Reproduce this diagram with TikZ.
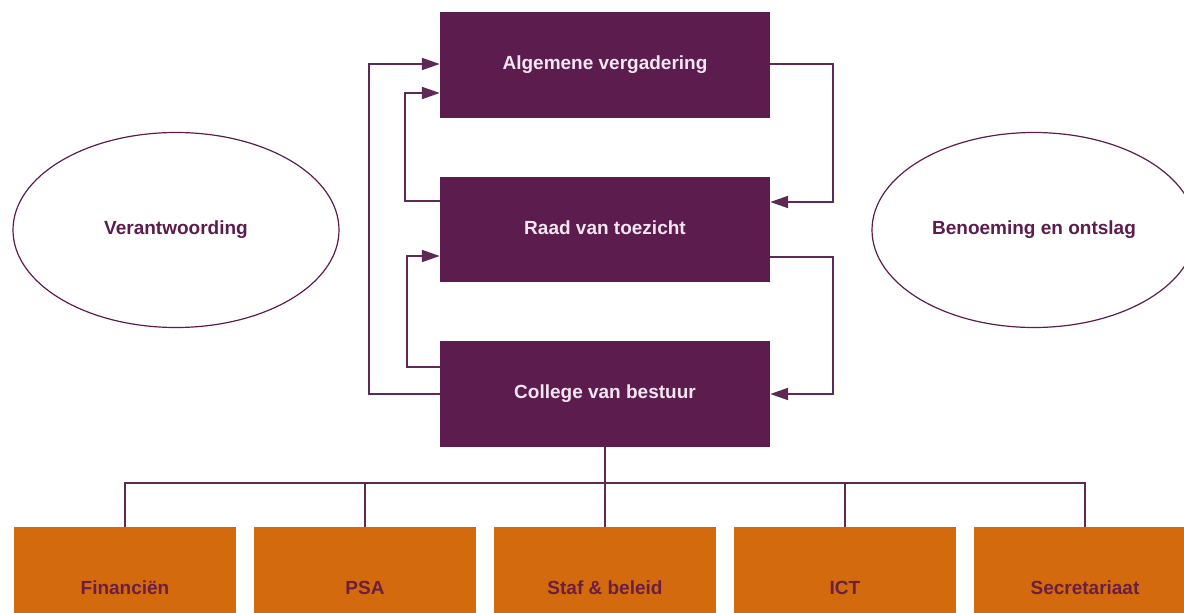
\documentclass[tikz,border=0pt]{standalone}
\usepackage{fontspec}
\setmainfont{Liberation Sans}
\usetikzlibrary{shapes.geometric,arrows.meta}
\definecolor{pfill}{HTML}{5C1D4E}
\definecolor{ofill}{HTML}{D36A0E}
\definecolor{pline}{HTML}{5E2A55}
\definecolor{ptext}{HTML}{F3E6F0}
\definecolor{otext}{HTML}{6A1F3F}
\tikzset{
  lbl/.style={font=\fontsize{19}{22}\selectfont\bfseries, text height=13.5pt, text depth=4pt},
  govbox/.style={lbl, rectangle, fill=pfill, draw=none, minimum width=330pt, minimum height=106pt, inner sep=0pt, text=ptext},
  deptbox/.style={lbl, rectangle, fill=ofill, draw=none, minimum width=222pt, minimum height=126pt, inner sep=0pt, text=otext},
  oval/.style={lbl, ellipse, draw=pfill, line width=1.2pt, minimum width=326pt, minimum height=195pt, inner sep=0pt, text=pfill},
  conn/.style={draw=pline, line width=2pt},
  arr/.style={conn, -{Triangle[length=18pt,width=12pt]}}
}
\begin{document}
\begin{tikzpicture}[x=1pt,y=-1pt]
\useasboundingbox (0,0) rectangle (1184,613);
\clip (0,0) rectangle (1184,613);
\fill[white] (0,0) rectangle (1184,613);
% governance boxes
\node[govbox] (av) at (605,65) {Algemene vergadering};
\node[govbox, minimum height=105pt] (rvt) at (605,229.5) {Raad van toezicht};
\node[govbox] (cvb) at (605,394) {College van bestuur};
% ellipses
\node[oval] (ver) at (176,230) {Verantwoording};
\node[oval, minimum width=324pt] (ben) at (1034,230) {Benoeming en ontslag};
% departments
\node[deptbox] (fin) at (125,590) {Financiën};
\node[deptbox] (psa) at (365,590) {PSA};
\node[deptbox] (staf) at (605,590) {Staf \& beleid};
\node[deptbox] (ict) at (845,590) {ICT};
\node[deptbox] (sec) at (1085,590) {Secretariaat};
% left feedback connectors
\draw[arr] (cvb.west) -- ++(-71,0) |- ([yshift=1pt]av.west);
\draw[arr] ([yshift=28.5pt]rvt.west) -- ++(-35,0) |- ([yshift=-28pt]av.west);
\draw[arr] ([yshift=27pt]cvb.west) -- ++(-33,0) |- ([yshift=-26.5pt]rvt.west);
% right connectors
\draw[arr] ([yshift=1pt]av.east) -- ++(63,0) |- ([yshift=27.5pt]rvt.east);
\draw[arr] ([yshift=-27.5pt]rvt.east) -- ++(63,0) |- (cvb.east);
% org tree
\draw[conn] (cvb.south) -- (staf.north);
\draw[conn] (fin.north) -- ++(0,-44) -| (sec.north);
\draw[conn] (psa.north) -- ++(0,-44);
\draw[conn] (ict.north) -- ++(0,-44);
\end{tikzpicture}
\end{document}
